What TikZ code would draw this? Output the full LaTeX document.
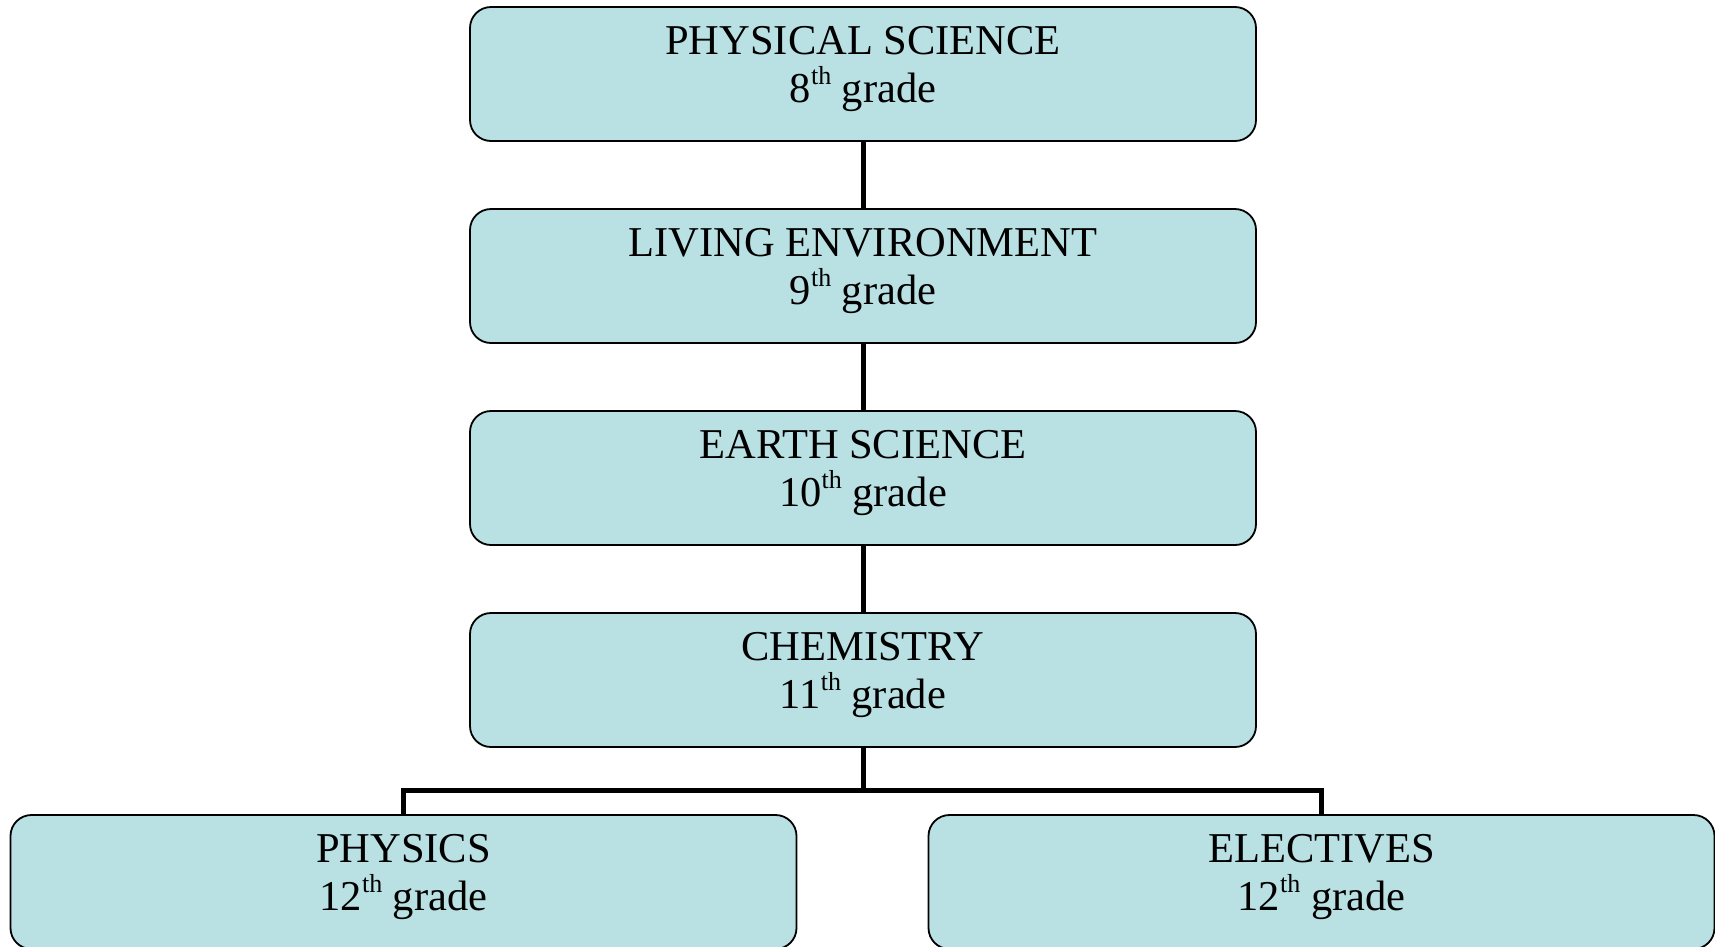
\documentclass[tikz,border=0pt]{standalone}
\usepackage{fontspec}
\setmainfont{Liberation Serif}
\definecolor{boxfill}{RGB}{185,224,227}
\tikzset{
  stagebox/.style={draw=black, line width=1.8pt, fill=boxfill, rounded corners=21pt,
    minimum width=786pt, minimum height=134pt, inner sep=0pt},
  stagetxt/.style={anchor=base, inner sep=0pt, font=\fontsize{42.5}{48}\selectfont},
  link/.style={draw=black, line width=5pt},
}
\newcommand{\ordsup}[1]{\raisebox{0.42em}{\fontsize{26}{26}\selectfont #1}}
\begin{document}
\begin{tikzpicture}[x=1pt,y=-1pt]
\useasboundingbox[fill=white] (0,0) rectangle (1715,946);
% boxes (top edges: 7, 209, 411, 613, 815)
\node[stagebox] (b1) at (863,74) {};
\node[stagebox] (b2) at (863,276) {};
\node[stagebox] (b3) at (863,478) {};
\node[stagebox] (b4) at (863,680) {};
\node[stagebox] (b5) at (403.5,882) {};
\node[stagebox] (b6) at (1321.5,882) {};
% texts
\node[stagetxt] (t1a) at (863,54) {PHYSICAL SCIENCE};
\node[stagetxt] (t1b) at (863,102) {8\ordsup{th} grade};
\node[stagetxt] (t2a) at (863,256) {LIVING ENVIRONMENT};
\node[stagetxt] (t2b) at (863,304) {9\ordsup{th} grade};
\node[stagetxt] (t3a) at (863,458) {EARTH SCIENCE};
\node[stagetxt] (t3b) at (863,506) {10\ordsup{th} grade};
\node[stagetxt] (t4a) at (863,660) {CHEMISTRY};
\node[stagetxt] (t4b) at (863,708) {11\ordsup{th} grade};
\node[stagetxt] (t5a) at (403.5,862) {PHYSICS};
\node[stagetxt] (t5b) at (403.5,910) {12\ordsup{th} grade};
\node[stagetxt] (t6a) at (1321.5,862) {ELECTIVES};
\node[stagetxt] (t6b) at (1321.5,910) {12\ordsup{th} grade};
% connectors
\coordinate (j) at (863,790);
\draw[link] (b1.south) -- (b2.north);
\draw[link] (b2.south) -- (b3.north);
\draw[link] (b3.south) -- (b4.north);
\draw[link] (b4.south) -- (j);
\draw[link, line join=miter] (b5.north) |- (j) -| (b6.north);
\end{tikzpicture}
\end{document}
